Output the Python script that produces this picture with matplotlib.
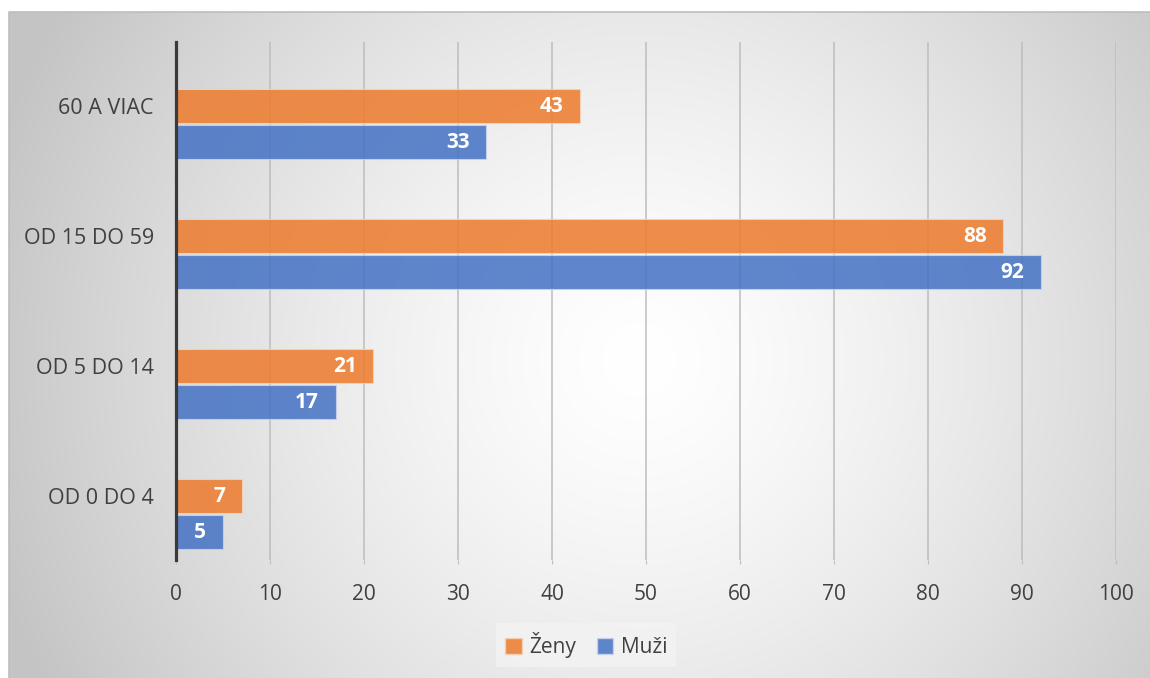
import numpy as np
import matplotlib
matplotlib.use('Agg')
import matplotlib.pyplot as plt
from matplotlib.patches import Patch

plt.rcParams['font.family'] = ['Open Sans', 'DejaVu Sans']

# data
categories = ['OD 0 DO 4', 'OD 5 DO 14', 'OD 15 DO 59', '60 A VIAC']
zeny = [7, 21, 88, 43]
muzi = [5, 17, 92, 33]
x_ticks = [0, 10, 20, 30, 40, 50, 60, 70, 80, 90, 100]

c_zeny = '#ED7D31'
c_muzi = '#4472C4'
txt = '#404040'

W, H = 1150, 678
fig = plt.figure(figsize=(W / 100, H / 100), dpi=100)

# radial gradient background of the chart area
bg = fig.add_axes([9 / W, 0, 1 - 9 / W, 1 - 12 / H], zorder=-2)
xs = np.linspace(9, W, 400)
ys = np.linspace(12, H, 240)
X, Y = np.meshgrid(xs, ys)
d = np.sqrt((X - 640) ** 2 + (Y - 360) ** 2) / 680
v = 1 - 0.23 * np.clip(d, 0, 1) ** 1.4
bg.imshow(np.dstack([v, v, v]), extent=(0, 1, 0, 1), aspect='auto', origin='upper')
# only top and left border show in the picture
bg.plot([0, 0, 1], [0, 1, 1], transform=bg.transAxes, color='#BDBDBD', lw=1.2,
        clip_on=False)
bg.set_xlim(0, 1)
bg.set_ylim(0, 1)
bg.axis('off')

# main plot area
ax = fig.add_axes([176 / W, 1 - 560 / H, (1116 - 176) / W, (560 - 42) / H])
ax.patch.set_alpha(0)

pos = np.arange(len(categories))
h = 34 / 130
off = h / 2 + 1 / 130
ax.barh(pos + off, zeny, height=h, color=c_zeny, alpha=0.88,
        edgecolor='#F6D2B8', linewidth=0.8, zorder=3)
ax.barh(pos - off, muzi, height=h, color=c_muzi, alpha=0.85,
        edgecolor='#C9D4EE', linewidth=0.8, zorder=3)

for i in range(len(categories)):
    ax.annotate(str(zeny[i]), xy=(zeny[i], pos[i] + off), xytext=(-12, 0),
                textcoords='offset points', ha='right', va='center',
                color='white', fontsize=15, fontweight='bold', zorder=4)
    ax.annotate(str(muzi[i]), xy=(muzi[i], pos[i] - off), xytext=(-12, 0),
                textcoords='offset points', ha='right', va='center',
                color='white', fontsize=15, fontweight='bold', zorder=4)

ax.set_xlim(0, 100)
ax.set_ylim(-46 / 130, 3 + 82 / 130)
ax.set_xticks(x_ticks)
ax.set_xticklabels([str(t) for t in x_ticks])
ax.set_yticks(pos + off)
ax.set_yticklabels(categories)

ax.grid(axis='x', color='#BDBDBD', linewidth=1.1, zorder=0)
ax.set_axisbelow(True)
for s in ['top', 'right', 'bottom']:
    ax.spines[s].set_visible(False)
ax.spines['left'].set_color('#3A3A3A')
ax.spines['left'].set_linewidth(2.3)
ax.spines['left'].set_zorder(5)

ax.tick_params(axis='x', length=3, color='#BDBDBD', pad=14, labelsize=15, labelcolor=txt)
ax.tick_params(axis='y', length=0, pad=16, labelsize=15.5, labelcolor=txt)

handles = [Patch(facecolor=c_zeny, alpha=0.88, edgecolor='#F6D2B8', label='Ženy'),
           Patch(facecolor=c_muzi, alpha=0.85, edgecolor='#C9D4EE', label='Muži')]
leg = fig.legend(handles=handles, loc='center', bbox_to_anchor=(586 / W, 1 - 645 / H),
                 ncol=2, fontsize=15, frameon=True, fancybox=False,
                 handlelength=0.8, handleheight=0.8, handletextpad=0.35,
                 columnspacing=1.0, borderpad=0.45, labelcolor=txt)
leg.get_frame().set_facecolor('#F3F3F3')
leg.get_frame().set_edgecolor('none')
leg.get_frame().set_alpha(0.8)

fig.savefig('out.png', dpi=100)
